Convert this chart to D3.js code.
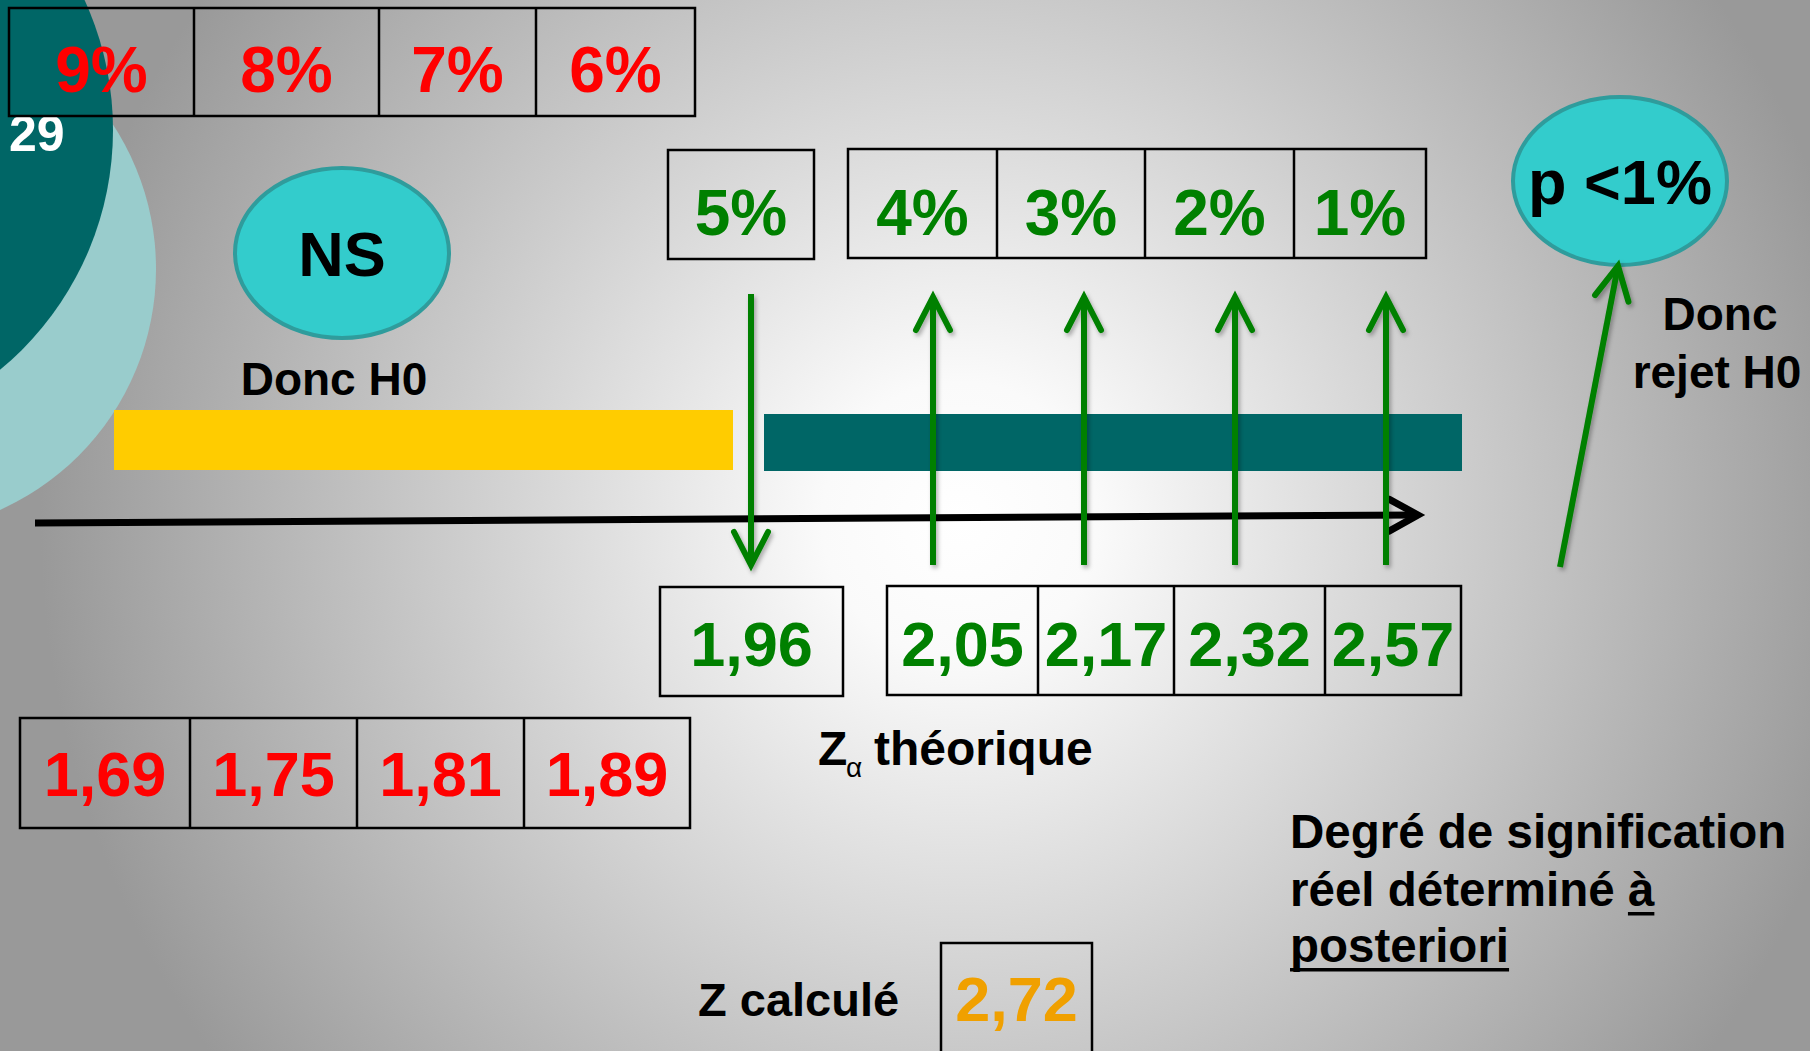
<!DOCTYPE html>
<html>
<head>
<meta charset="utf-8">
<script src="https://cdn.jsdelivr.net/npm/d3@7"></script>
<style>
  html, body { margin: 0; padding: 0; overflow: hidden; background: #ffffff; }
  svg { display: block; }
  text { white-space: pre; }
</style>
</head>
<body>
<svg id="slide"></svg>
<script>
// ---- significance levels and their critical z-values ----
const nsLevels      = ["9%", "8%", "7%", "6%"];
const nsZ           = ["1,69", "1,75", "1,81", "1,89"];
const borderLevel   = ["5%"];
const borderZ       = ["1,96"];
const rejectLevels  = ["4%", "3%", "2%", "1%"];
const rejectZ       = ["2,05", "2,17", "2,32", "2,57"];
const zCalcValue    = ["2,72"];
const slideNumber   = ["29"];
const decisionNS    = ["NS", "Donc H0"];
const decisionRej   = ["p <1%", "Donc", "rejet H0"];
const noteLines     = ["Degré de signification", "réel déterminé ", "à", "posteriori"];

// ---- layout ----
const W = 1810, H = 1051;
const FONT = "'Liberation Sans', Arial, Helvetica, sans-serif";
const RED = "#ff0000", GREEN = "#008000", ORANGE = "#f0a000";
const TEAL_DARK = "#006666", TEAL_LIGHT = "#99cccc", TEAL_BUBBLE = "#33cccc";

// cell edges of each table row (x in px)
const edgesTopRed      = [9, 194, 379, 536, 695];
const edgesTopBorder   = [668, 814];
const edgesTopReject   = [848, 997, 1145, 1294, 1426];
const edgesBotBorder   = [660, 843];
const edgesBotReject   = [887, 1038, 1174, 1325, 1461];
const edgesBotRed      = [20, 190, 357, 524, 690];
const edgesCalc        = [941, 1092];

const svg = d3.select("#slide").attr("width", W).attr("height", H);
const defs = svg.append("defs");

// background: light centre fading to grey
const bg = defs.append("radialGradient")
  .attr("id", "bg").attr("gradientUnits", "userSpaceOnUse")
  .attr("cx", 960).attr("cy", 520).attr("r", 920);
bg.append("stop").attr("offset", 0).attr("stop-color", "#ffffff");
bg.append("stop").attr("offset", 0.15).attr("stop-color", "#fafafa");
bg.append("stop").attr("offset", 1).attr("stop-color", "#999999");
svg.append("rect").attr("width", W).attr("height", H).attr("fill", "url(#bg)");

const shadow = defs.append("filter").attr("id", "shadow")
  .attr("x", "-50%").attr("y", "-20%").attr("width", "200%").attr("height", "140%");
shadow.append("feDropShadow").attr("dx", 2).attr("dy", 3).attr("stdDeviation", 2)
  .attr("flood-color", "#000").attr("flood-opacity", 0.3);

// decorative corner discs
svg.append("circle").attr("cx", -108).attr("cy", 269).attr("r", 264).attr("fill", TEAL_LIGHT);
svg.append("circle").attr("cx", -198).attr("cy", 130).attr("r", 311).attr("fill", TEAL_DARK);

svg.append("text").text(slideNumber[0])
  .attr("x", 9).attr("y", 151)
  .attr("font-family", FONT).attr("font-weight", "bold").attr("font-size", 50)
  .attr("fill", "#ffffff");

// ---- a row of boxed labels ----
function drawRow(labels, edges, top, bottom, baseline, color, size) {
  const x = d3.scaleOrdinal().domain(labels).range(labels.map((d, i) => i));
  const g = svg.append("g");
  g.append("rect")
    .attr("x", edges[0]).attr("y", top)
    .attr("width", edges[edges.length - 1] - edges[0]).attr("height", bottom - top)
    .attr("fill", "none").attr("stroke", "#000").attr("stroke-width", 2.5);
  g.selectAll("line.div").data(edges.slice(1, -1)).join("line")
    .attr("class", "div")
    .attr("x1", d => d).attr("x2", d => d).attr("y1", top).attr("y2", bottom)
    .attr("stroke", "#000").attr("stroke-width", 2.5);
  g.selectAll("text").data(labels).join("text")
    .attr("x", d => (edges[x(d)] + edges[x(d) + 1]) / 2)
    .attr("y", baseline)
    .attr("text-anchor", "middle")
    .attr("font-family", FONT).attr("font-weight", "bold").attr("font-size", size)
    .attr("fill", color)
    .text(d => d);
}

drawRow(nsLevels,     edgesTopRed,    8,   116, 92,  RED,    64);
drawRow(borderLevel,  edgesTopBorder, 150, 259, 235, GREEN,  64);
drawRow(rejectLevels, edgesTopReject, 149, 258, 235, GREEN,  64);
drawRow(borderZ,      edgesBotBorder, 587, 696, 666, GREEN,  63);
drawRow(rejectZ,      edgesBotReject, 586, 695, 666, GREEN,  63);
drawRow(nsZ,          edgesBotRed,    718, 828, 796, RED,    63);
drawRow(zCalcValue,   edgesCalc,      943, 1070, 1021, ORANGE, 63);

// ---- decision bubbles ----
function bubble(cx, cy, rx, ry, label, baseline) {
  svg.append("ellipse").attr("cx", cx).attr("cy", cy).attr("rx", rx).attr("ry", ry)
    .attr("fill", TEAL_BUBBLE).attr("stroke", "#2f9c9c").attr("stroke-width", 4);
  svg.append("text").text(label)
    .attr("x", cx).attr("y", baseline).attr("text-anchor", "middle")
    .attr("font-family", FONT).attr("font-weight", "bold").attr("font-size", 63)
    .attr("fill", "#000");
}
bubble(342, 253, 107, 85, decisionNS[0], 276);
bubble(1620, 181, 107, 84, decisionRej[0], 204);

function label(txt, x, y, anchor, size) {
  return svg.append("text").text(txt)
    .attr("x", x).attr("y", y).attr("text-anchor", anchor || "start")
    .attr("font-family", FONT).attr("font-weight", "bold").attr("font-size", size || 46)
    .attr("fill", "#000");
}
label(decisionNS[1], 334, 395, "middle");
label(decisionRej[1], 1720, 330, "middle");
label(decisionRej[2], 1717, 388, "middle");

// ---- acceptance / rejection zones ----
svg.append("rect").attr("x", 114).attr("y", 410).attr("width", 619).attr("height", 60)
  .attr("fill", "#ffcc00");
svg.append("rect").attr("x", 764).attr("y", 414).attr("width", 698).attr("height", 57)
  .attr("fill", TEAL_DARK);

// ---- arrows ----
function chevron(tip, dir, back, half) {
  const len = Math.hypot(dir[0], dir[1]);
  const ux = dir[0] / len, uy = dir[1] / len;
  const nx = -uy, ny = ux;
  return [
    [tip[0] - back * ux + half * nx, tip[1] - back * uy + half * ny],
    tip,
    [tip[0] - back * ux - half * nx, tip[1] - back * uy - half * ny]
  ];
}
const lineGen = d3.line();

function arrow(from, to, color, width, back, half, filter) {
  const g = svg.append("g");
  if (filter) g.attr("filter", "url(#shadow)");
  const path = d3.path();
  path.moveTo(from[0], from[1]); path.lineTo(to[0], to[1]);
  g.append("path").attr("d", path.toString())
    .attr("stroke", color).attr("stroke-width", width).attr("fill", "none")
    .attr("stroke-linecap", "butt");
  g.append("path")
    .attr("d", lineGen(chevron(to, [to[0] - from[0], to[1] - from[1]], back, half)))
    .attr("stroke", color).attr("stroke-width", width).attr("fill", "none")
    .attr("stroke-linecap", "round").attr("stroke-linejoin", "miter");
}

// z axis
arrow([35, 523], [1418, 515], "#000", 7, 29, 16, false);

// z critical positions along the axis
const rejectX = d3.scalePoint().domain(rejectLevels).range([933, 1386]);
const borderX = d3.scalePoint().domain(borderLevel).range([751, 751]);

borderLevel.forEach(d => arrow([borderX(d), 294], [borderX(d), 565], GREEN, 6, 33, 17, true));
rejectLevels.forEach(d => arrow([rejectX(d), 565], [rejectX(d), 297], GREEN, 6, 33, 17, true));
arrow([1560, 567], [1618, 266], GREEN, 6, 33, 17, true);

// ---- captions ----
label("Z", 818, 765, "start", 48);
label("α", 846, 777, "start", 28).attr("font-weight", "normal");
label("théorique", 874, 765, "start", 48);

label("Z calculé", 698, 1016, "start", 47);

label(noteLines[0], 1290, 848, "start", 47.5);
const l2 = label(noteLines[1], 1290, 906, "start", 47.5);
const aX = 1290 + l2.node().getComputedTextLength();
const l2b = label(noteLines[2], aX, 906, "start", 47.5);
const l3 = label(noteLines[3], 1290, 962, "start", 47.5);
[[aX, l2b.node().getComputedTextLength(), 906], [1290, l3.node().getComputedTextLength(), 962]]
  .forEach(([x0, w, y]) => {
    svg.append("rect").attr("x", x0).attr("y", y + 6).attr("width", w).attr("height", 3.5)
      .attr("fill", "#000");
  });
</script>
</body>
</html>
